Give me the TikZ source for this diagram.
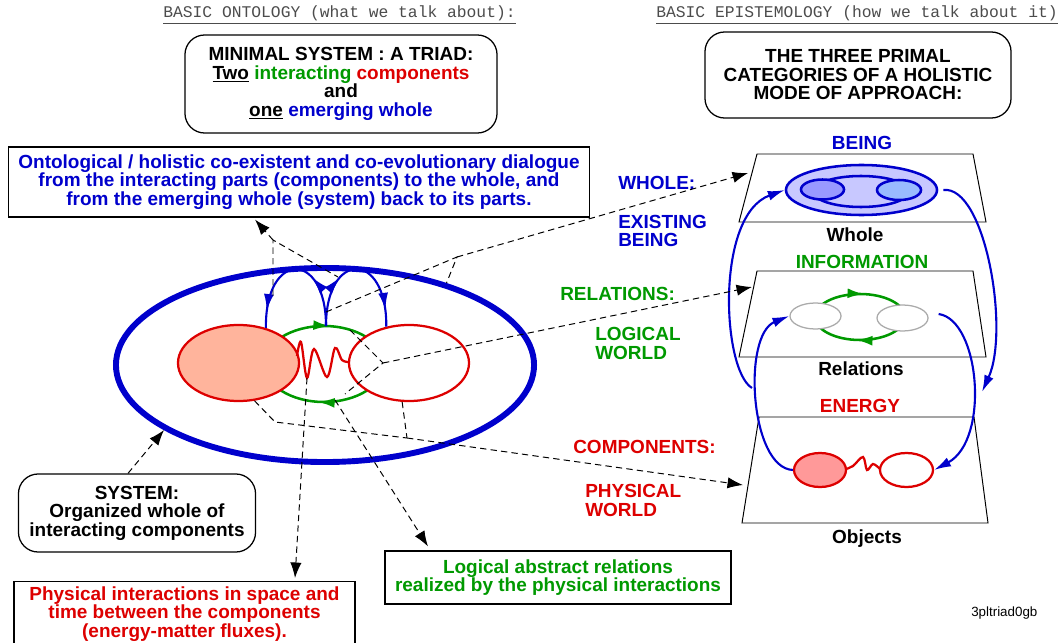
\documentclass[tikz,border=0pt]{standalone}
\usepackage{fontspec}
\setmainfont{Liberation Sans}
\setmonofont{Liberation Mono}
\usepackage{xcolor}
\usetikzlibrary{positioning,shapes.geometric,calc,arrows.meta,decorations.markings}

\definecolor{myblue}{RGB}{0,0,204}
\definecolor{mygreen}{RGB}{0,153,0}
\definecolor{myred}{RGB}{221,0,0}
\definecolor{salmonfill}{RGB}{255,180,156}
\definecolor{pinkfill}{RGB}{255,153,153}
\definecolor{lavender}{RGB}{200,200,255}
\definecolor{periwinkle}{RGB}{153,153,255}
\definecolor{skyfill}{RGB}{153,187,255}
\definecolor{relgray}{RGB}{170,170,170}

\tikzset{
  lbl/.style={font=\bfseries\fontsize{13.5}{13.2}\selectfont, align=center, inner sep=0pt},
  rbox/.style={lbl, draw, line width=0.9pt, rounded corners=14pt},
  sbox/.style={lbl, draw, line width=0.8pt},
  blob/.style={ellipse, draw, inner sep=0pt},
  dline/.style={line width=0.7pt, dash pattern=on 4.5pt off 3pt},
  darrow/.style={dline, -{Latex[length=11pt,width=8pt]}},
  barrow/.style={myblue, line width=1.5pt, -{Latex[length=12pt,width=7pt]}},
  loopline/.style={myblue, line width=1.5pt, postaction={decorate},
    decoration={markings,
      mark=at position 0.36 with {\arrow{Latex[length=12pt,width=7pt]}},
      mark=at position 0.88 with {\arrow{Latex[length=12pt,width=7pt]}}}},
  cycleline/.style={mygreen, line width=1.8pt, postaction={decorate},
    decoration={markings,
      mark=at position 0.27 with {\arrow{Latex[length=12pt,width=7pt]}},
      mark=at position 0.77 with {\arrow{Latex[length=12pt,width=7pt]}}}},
}

\begin{document}
\begin{tikzpicture}[x=0.025cm, y=-0.025cm]
  \useasboundingbox (0,0) rectangle (1058,643);

  % titles
  \node[font=\ttfamily\fontsize{11.6}{12}\selectfont, text=black!70] (ontoTitle) at (339.5,15)
    {\underline{BASIC ONTOLOGY (what we talk about):}};
  \node[font=\ttfamily\fontsize{11.6}{12}\selectfont, text=black!70] (epiTitle) at (857,15)
    {\underline{BASIC EPISTEMOLOGY (how we talk about it)}};

  \node[rbox, minimum width=7.8cm, minimum height=2.45cm] (triad) at (341,84)
    {MINIMAL SYSTEM : A TRIAD:\\
     \underline{Two} {\color{mygreen}interacting} {\color{myred}components}\\
     and\\
     \underline{one} {\color{myblue}emerging whole}};
  \node[rbox, minimum width=7.65cm, minimum height=2.15cm] (primal) at (858,75)
    {THE THREE PRIMAL\\CATEGORIES OF A HOLISTIC\\MODE OF APPROACH:};

  \node[sbox, text=myblue, minimum width=14.5cm, minimum height=1.75cm] (dlg) at (299,182)
    {Ontological / holistic co-existent and co-evolutionary dialogue\\
     from the interacting parts (components) to the whole, and\\
     from the emerging whole (system) back to its parts.};

  \node[rbox, minimum width=5.925cm, minimum height=1.95cm] (sysbox) at (137,513)
    {SYSTEM:\\Organized whole of\\interacting components};
  \node[sbox, text=myred, minimum width=8.525cm, anchor=north, inner ysep=3.5pt] (physbox) at (184.5,581)
    {Physical interactions in space and\\time between the components\\(energy-matter fluxes).};
  \node[sbox, text=mygreen, minimum width=8.65cm, minimum height=1.325cm] (lgbox) at (558,577.5)
    {Logical abstract relations\\realized by the physical interactions};

  % the system
  \node[blob, draw=myblue, line width=4.2pt, minimum width=10.45cm, minimum height=4.85cm] (sys) at (325,365) {};
  \draw[cycleline] (324,364) ellipse [x radius=60, y radius=38];
  \node[blob, draw=myred, line width=1.6pt, fill=salmonfill, minimum width=3.025cm, minimum height=1.9cm] (compL) at (238.5,363) {};
  \node[blob, draw=myred, line width=1.6pt, fill=white, minimum width=3cm, minimum height=1.9cm] (compR) at (409,363) {};
  \draw[myred, line width=1.6pt] plot[smooth, tension=0.55] coordinates
    {(297,356) (301,342) (307,378) (314,349) (327,377) (335,348) (342,360) (349,362)};

  \coordinate (hub) at (326,326);
  \draw[loopline] (hub) .. controls (326,250) and (265,250) .. (compL.52);
  \draw[loopline] (hub) .. controls (326,250) and (387,250) .. (compR.122);

  % planes
  \draw[line width=0.7pt] (757,154) -- (973,154) -- (986,222) -- (739,222) -- cycle;
  \draw[line width=0.7pt] (757,271) -- (973,271) -- (986,357) -- (739,357) -- cycle;
  \draw[line width=0.7pt] (759,417) -- (974,417) -- (988,523) -- (742,523) -- cycle;

  \node[lbl, text=myblue] (being) at (862,143) {BEING};
  \node[lbl] (whole) at (855,235) {Whole};
  \node[lbl, text=mygreen] (info) at (862,262) {INFORMATION};
  \node[lbl] (relations) at (861,369) {Relations};
  \node[lbl, text=myred] (energy) at (860,406) {ENERGY};
  \node[lbl] (objects) at (867,539) {Objects};

  \node[blob, draw=myblue, line width=1.8pt, fill=lavender, minimum width=3.775cm, minimum height=1.25cm] (wholeOut) at (861.5,190) {};
  \node[blob, draw=myblue, line width=1.8pt, minimum width=2.4cm, minimum height=0.775cm] (wholeMid) at (861,191.5) {};
  \node[blob, draw=myblue, line width=1.8pt, fill=periwinkle, minimum width=1.075cm, minimum height=0.5cm] (wholeL) at (822.5,189.5) {};
  \node[blob, draw=myblue, line width=1.8pt, fill=skyfill, minimum width=1.1cm, minimum height=0.5cm] (wholeR) at (899,190) {};

  \draw[cycleline] (860,317) ellipse [x radius=45, y radius=23];
  \node[blob, draw=relgray, line width=0.9pt, fill=white, minimum width=1.275cm, minimum height=0.65cm] (relL) at (815.5,316) {};
  \node[blob, draw=relgray, line width=0.9pt, fill=white, minimum width=1.275cm, minimum height=0.65cm] (relR) at (902.5,318) {};

  \node[blob, draw=myred, line width=1.6pt, fill=pinkfill, minimum width=1.3cm, minimum height=0.85cm] (objL) at (820,470) {};
  \node[blob, draw=myred, line width=1.6pt, fill=white, minimum width=1.325cm, minimum height=0.85cm] (objR) at (906.5,470) {};
  \draw[myred, line width=1.6pt] plot[smooth, tension=0.55] coordinates
    {(846,469) (853,466) (863,457) (867,470) (873,464) (880,469)};

  % blue loops between the planes
  \coordinate (aStart) at (752,388);
  \coordinate (cEnd) at (982,392);
  \draw[barrow] (aStart) .. controls (722,370) and (715,215) .. (wholeOut.west);
  \draw[barrow] (objL.west) .. controls (750,468) and (742,335) .. (relL.west);
  \draw[barrow] ($(wholeOut.east)+(5,0)$) .. controls (985,185) and (1010,330) .. (cEnd);
  \draw[barrow] ($(relR.east)+(10,-4)$) .. controls (980,320) and (990,440) .. (objR.east);

  % middle labels
  \node[lbl, text=myblue, anchor=west] (wholeLbl) at (618,183) {WHOLE:};
  \node[lbl, text=myblue, anchor=west, align=left] (existLbl) at (618,231) {EXISTING\\BEING};
  \node[lbl, text=mygreen, anchor=west] (relLbl) at (560,294) {RELATIONS:};
  \node[lbl, text=mygreen, anchor=west, align=left] (logicLbl) at (595,343.5) {LOGICAL\\WORLD};
  \node[lbl, text=myred, anchor=west] (compLbl) at (573,447) {COMPONENTS:};
  \node[lbl, text=myred, anchor=west, align=left] (physLbl) at (585,500.5) {PHYSICAL\\WORLD};

  \node[font=\fontsize{9.5}{10}\selectfont, anchor=west, inner sep=0pt] (figId) at (971,613) {3pltriad0gb};

  % dashed connectors
  \coordinate (j1) at (273,240);
  \coordinate (lLeg) at (273,296);
  \coordinate (rLeg) at (338,277);
  \draw[dline] (lLeg) -- (j1) -- (rLeg);
  \draw[darrow] (j1) -- ($(dlg.south)+(-44,2)$);

  \coordinate (stem) at (326,312);
  \coordinate (j2) at (457,257);
  \coordinate (beingIn) at (748,173);
  \draw[dline] (stem) -- (j2) -- (sys.34);
  \draw[darrow] (j2) -- (beingIn);

  \coordinate (j3) at (383,363);
  \coordinate (gTopR) at (350,330);
  \coordinate (gBotR) at (345,394);
  \coordinate (infoIn) at (752,287);
  \draw[dline] (gTopR) -- (j3) -- (gBotR);
  \draw[darrow] (j3) -- (infoIn);

  \coordinate (j4) at (275,422);
  \coordinate (j5) at (407,438);
  \coordinate (objIn) at (743,485);
  \draw[dline] (compL.-67) -- (j4) -- (j5) (compR.-100) -- (j5);
  \draw[darrow] (j5) -- (objIn);

  \coordinate (zzBot) at (307,378);
  \coordinate (gBot) at (335,400);
  \draw[darrow] (zzBot) -- ($(physbox.north)+(110.5,-3)$);
  \draw[darrow] (gBot) -- ($(lgbox.north)+(-130,-4)$);
  \draw[darrow] ($(sysbox.north)+(-9,0)$) -- (sys.202);
\end{tikzpicture}
\end{document}
